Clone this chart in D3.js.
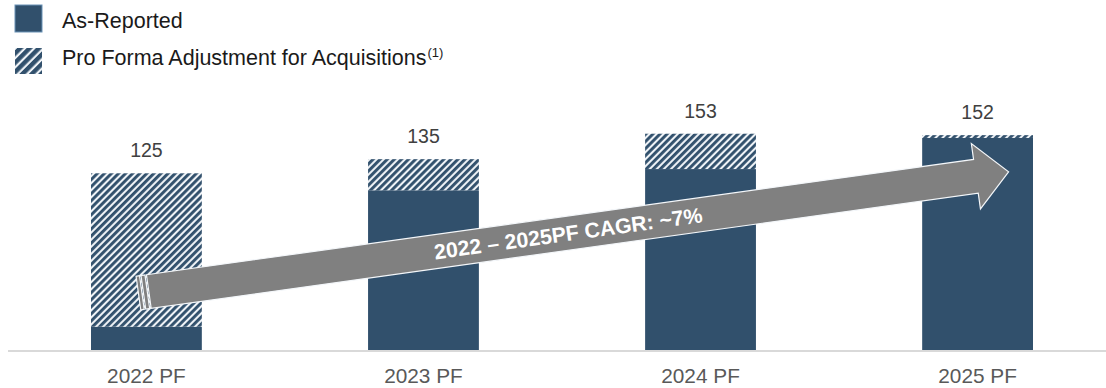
<!DOCTYPE html>
<html>
<head>
<meta charset="utf-8">
<script src="https://cdn.jsdelivr.net/npm/d3@7"></script>
<style>
  html, body { margin: 0; padding: 0; background: #fff; }
  svg { display: block; }
</style>
</head>
<body>
<svg id="chart" width="1106" height="388"></svg>
<script>
// Revenue build, as-reported plus pro forma acquisition adjustment
const categories = ["2022 PF", "2023 PF", "2024 PF", "2025 PF"];
const totals = [125, 135, 153, 152];
const asReported = [16.5, 113, 128, 150];
const legendLabels = ["As-Reported", "Pro Forma Adjustment for Acquisitions"];
const legendNote = "(1)";
const cagrLabel = "2022 \u2013 2025PF CAGR: ~7%";
// CAGR arrow anchors, in value units
const arrowStartValue = 40.3;
const arrowEndValue = 126.1;

const NAVY = "#31506c";
const FONT = "Arial, 'Liberation Sans', Helvetica, sans-serif";

const rows = categories.map((c, i) => ({
  category: c,
  reported: asReported[i],
  adjustment: totals[i] - asReported[i],
  total: totals[i]
}));

const svg = d3.select("#chart");
const defs = svg.append("defs");

function hatch(id, period, ink) {
  const p = defs.append("pattern")
    .attr("id", id)
    .attr("patternUnits", "userSpaceOnUse")
    .attr("width", period)
    .attr("height", 20)
    .attr("patternTransform", "rotate(45)");
  p.append("rect").attr("width", period).attr("height", 20).attr("fill", "#eef2f6");
  p.append("rect").attr("width", ink).attr("height", 20).attr("fill", NAVY);
}
hatch("hatchBar", 5, 2.9);
hatch("hatchKey", 6.6, 4.4);

const x = d3.scaleBand()
  .domain(categories)
  .range([91, 1033])
  .paddingInner(0.6)
  .paddingOuter(0);

const y = d3.scaleLinear()
  .domain([0, 160])
  .range([350, 350 - 160 * 1.4136]);

const stack = d3.stack().keys(["reported", "adjustment"]);
const series = stack(rows);
const fills = { reported: NAVY, adjustment: "url(#hatchBar)" };

// baseline
svg.append("line")
  .attr("x1", 8).attr("x2", 1106)
  .attr("y1", 351).attr("y2", 351)
  .attr("stroke", "#d9d9d9").attr("stroke-width", 2);

// stacked bars
svg.append("g").selectAll("g")
  .data(series)
  .join("g")
  .attr("fill", d => fills[d.key])
  .selectAll("rect")
  .data(d => d)
  .join("rect")
  .attr("x", d => x(d.data.category))
  .attr("width", x.bandwidth())
  .attr("y", d => y(d[1]))
  .attr("height", d => y(d[0]) - y(d[1]));

// total labels
svg.append("g").selectAll("text")
  .data(rows)
  .join("text")
  .attr("x", d => x(d.category) + x.bandwidth() / 2)
  .attr("y", d => y(d.total) - 16)
  .attr("text-anchor", "middle")
  .attr("font-family", FONT)
  .attr("font-size", 19.5)
  .attr("fill", "#404040")
  .text(d => d.total);

// category axis
const xAxis = svg.append("g")
  .attr("transform", "translate(0,351)")
  .call(d3.axisBottom(x).tickSize(0).tickPadding(17));
xAxis.select(".domain").remove();
xAxis.selectAll("text")
  .attr("font-family", FONT)
  .attr("font-size", 20.8)
  .attr("fill", "#595959");

// CAGR arrow (striped right arrow)
const x0 = x(categories[0]) + x.bandwidth() / 2 - 8;
const y0 = y(arrowStartValue);
const x1 = x(categories[categories.length - 1]) + x.bandwidth() / 2 + 31;
const y1 = y(arrowEndValue);
const len = Math.hypot(x1 - x0, y1 - y0);
const ang = Math.atan2(y1 - y0, x1 - x0) * 180 / Math.PI;
const half = 17, headLen = 33, headHalf = 33;

const arrow = svg.append("g")
  .attr("transform", `translate(${x0},${y0}) rotate(${ang})`);
const arrowStyle = sel => sel
  .attr("fill", "#808080")
  .attr("stroke", "#f4f7fa")
  .attr("stroke-width", 1.2)
  .attr("stroke-linejoin", "miter");

[[0, 3.5], [5, 4]].forEach(([u, w]) => {
  arrow.append("rect")
    .attr("x", u).attr("y", -half)
    .attr("width", w).attr("height", 2 * half)
    .call(arrowStyle);
});
const body = [
  [10.5, -half], [len - headLen, -half], [len - headLen, -headHalf],
  [len, 0], [len - headLen, headHalf], [len - headLen, half], [10.5, half]
];
arrow.append("path")
  .attr("d", d3.line()(body) + "Z")
  .call(arrowStyle);
arrow.append("text")
  .attr("x", 434)
  .attr("y", 0)
  .attr("dy", "0.36em")
  .attr("text-anchor", "middle")
  .attr("font-family", FONT)
  .attr("font-weight", "bold")
  .attr("font-size", 21.3)
  .attr("fill", "#ffffff")
  .text(cagrLabel);

// legend
const legend = svg.append("g");
const keyFills = [NAVY, "url(#hatchKey)"];
const keyRows = [{ sy: 5, ty: 28.3 }, { sy: 48, ty: 65 }];
legendLabels.forEach((label, i) => {
  legend.append("rect")
    .attr("x", 15).attr("y", keyRows[i].sy)
    .attr("width", 27).attr("height", i === 0 ? 27 : 26)
    .attr("fill", keyFills[i])
    .attr("stroke", i === 0 ? "#6a92b6" : "none")
    .attr("stroke-width", 1);
  const t = legend.append("text")
    .attr("x", 62).attr("y", keyRows[i].ty)
    .attr("font-family", FONT)
    .attr("font-size", 21.5)
    .attr("fill", "#1a1a1a");
  t.append("tspan").text(label);
  if (i === 1) {
    t.append("tspan")
      .attr("dy", -8)
      .attr("dx", 1)
      .attr("font-size", 13)
      .text(legendNote);
  }
});
</script>
</body>
</html>
